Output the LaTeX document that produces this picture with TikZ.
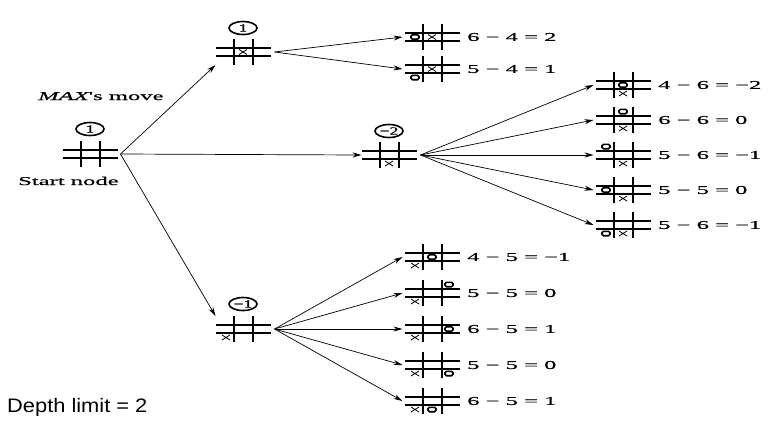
\documentclass[tikz,border=0pt]{standalone}
\usepackage{fontspec}
\setmainfont{Liberation Serif}
\newfontfamily\wideserif[FakeStretch=2.05,FakeBold=0.6]{Liberation Serif}
\newfontfamily\valserif[FakeStretch=1.6,FakeBold=0.6]{Liberation Serif}
\newfontfamily\noteface[FakeStretch=1.12]{Liberation Sans}
\usetikzlibrary{shapes.geometric,arrows.meta}

\tikzset{
  boardbox/.style={minimum width=55pt, minimum height=26pt, inner sep=0pt, outer sep=0pt},
  hline/.style={line width=1.1pt},
  vline/.style={line width=2pt},
  valnode/.style={ellipse, draw, line width=1.6pt, minimum width=28pt, minimum height=13pt, inner sep=0pt, font=\valserif\fontsize{11}{11}\selectfont},
  evallbl/.style={anchor=west, inner sep=0pt, font=\wideserif\fontsize{12}{12}\selectfont},
  txtlbl/.style={anchor=base west, inner sep=0pt, font=\wideserif\fontsize{12}{12}\selectfont},
  arr/.style={-{Stealth[length=9pt,width=5pt]}, line width=0.7pt},
  omark/.style={line width=1.6pt},
  xmark/.style={line width=0.8pt},
}

\newcommand\tttboard[4]{%
  \node[boardbox] (#1) at (#2,#3) {};
  \begin{scope}[shift={(#1.center)}]
    \draw[hline] (-27.5,-4) -- (27.5,-4) (-27.5,4) -- (27.5,4);
    \draw[vline] (-9.5,-13) -- (-9.5,13) (9.5,-13) -- (9.5,13);
    #4
  \end{scope}}
\newcommand\Omk[2]{\draw[omark, rounded corners=1.5pt] (#1*17-4,#2*8.5-2.2) rectangle (#1*17+4,#2*8.5+2.2);}
\newcommand\Xmk[2]{\draw[xmark] (#1*17-4,#2*8.5-2.5) -- (#1*17+4,#2*8.5+2.5) (#1*17-4,#2*8.5+2.5) -- (#1*17+4,#2*8.5-2.5);}

\begin{document}
\begin{tikzpicture}[x=1pt, y=-1pt]
  \fill[white] (0,0) rectangle (775,432);
  \useasboundingbox (0,0) rectangle (775,432);

  % depth 0
  \tttboard{root}{90}{154}{}
  \node[valnode] (vroot) at (90,129) {1};
  \node[txtlbl] (maxmove) at (38,100) {{\itshape MAX}'s move};
  \node[txtlbl] (start) at (18,185) {Start node};

  % depth 1
  \tttboard{top}{243}{52}{\Xmk{0}{0}}
  \node[valnode] (vtop) at (243,28) {1};
  \tttboard{mid}{389}{155}{\Xmk{0}{1}}
  \node[valnode] (vmid) at (389,131) {−2};
  \tttboard{bot}{243}{329}{\Xmk{-1}{1}}
  \node[valnode] (vbot) at (243,304) {−1};

  % depth 2 under top
  \tttboard{t1}{432}{37}{\Omk{-1}{0}\Xmk{0}{0}}
  \tttboard{t2}{432}{69}{\Omk{-1}{1}\Xmk{0}{0}}
  \node[evallbl] (lt1) at (467,37) {6 − 4 = 2};
  \node[evallbl] (lt2) at (467,69) {5 − 4 = 1};

  % depth 2 under mid
  \tttboard{m1}{623}{85}{\Omk{0}{0}\Xmk{0}{1}}
  \tttboard{m2}{623}{120}{\Omk{0}{-1}\Xmk{0}{1}}
  \tttboard{m3}{623}{155}{\Omk{-1}{-1}\Xmk{0}{1}}
  \tttboard{m4}{623}{190}{\Omk{-1}{0}\Xmk{0}{1}}
  \tttboard{m5}{623}{225}{\Omk{-1}{1}\Xmk{0}{1}}
  \node[evallbl] (lm1) at (658,85) {4 − 6 = −2};
  \node[evallbl] (lm2) at (658,120) {6 − 6 = 0};
  \node[evallbl] (lm3) at (658,155) {5 − 6 = −1};
  \node[evallbl] (lm4) at (658,190) {5 − 5 = 0};
  \node[evallbl] (lm5) at (658,225) {5 − 6 = −1};

  % depth 2 under bot
  \tttboard{b1}{432}{257}{\Omk{0}{0}\Xmk{-1}{1}}
  \tttboard{b2}{432}{293}{\Omk{1}{-1}\Xmk{-1}{1}}
  \tttboard{b3}{432}{329}{\Omk{1}{0}\Xmk{-1}{1}}
  \tttboard{b4}{432}{365}{\Omk{1}{1}\Xmk{-1}{1}}
  \tttboard{b5}{432}{401}{\Omk{0}{1}\Xmk{-1}{1}}
  \node[evallbl] (lb1) at (467,257) {4 − 5 = −1};
  \node[evallbl] (lb2) at (467,293) {5 − 5 = 0};
  \node[evallbl] (lb3) at (467,329) {6 − 5 = 1};
  \node[evallbl] (lb4) at (467,365) {5 − 5 = 0};
  \node[evallbl] (lb5) at (467,401) {6 − 5 = 1};

  \node[anchor=base west, inner sep=0pt, font=\noteface\fontsize{19.5}{19.5}\selectfont] (depth) at (7,412) {Depth limit = 2};

  % connectors
  \draw[arr] ([xshift=3pt]root.east) -- (top.south west);
  \draw[arr] ([xshift=3pt]root.east) -- (mid.west);
  \draw[arr] ([xshift=3pt]root.east) -- (bot.north west);
  \foreach \n in {t1,t2} \draw[arr] ([xshift=4pt]top.east) -- ([xshift=-2pt]\n.west);
  \foreach \n in {m1,m2,m3,m4,m5} \draw[arr] ([xshift=4pt]mid.east) -- ([xshift=-2pt]\n.west);
  \foreach \n in {b1,b2,b3,b4,b5} \draw[arr] ([xshift=4pt]bot.east) -- ([xshift=-2pt]\n.west);
\end{tikzpicture}
\end{document}
